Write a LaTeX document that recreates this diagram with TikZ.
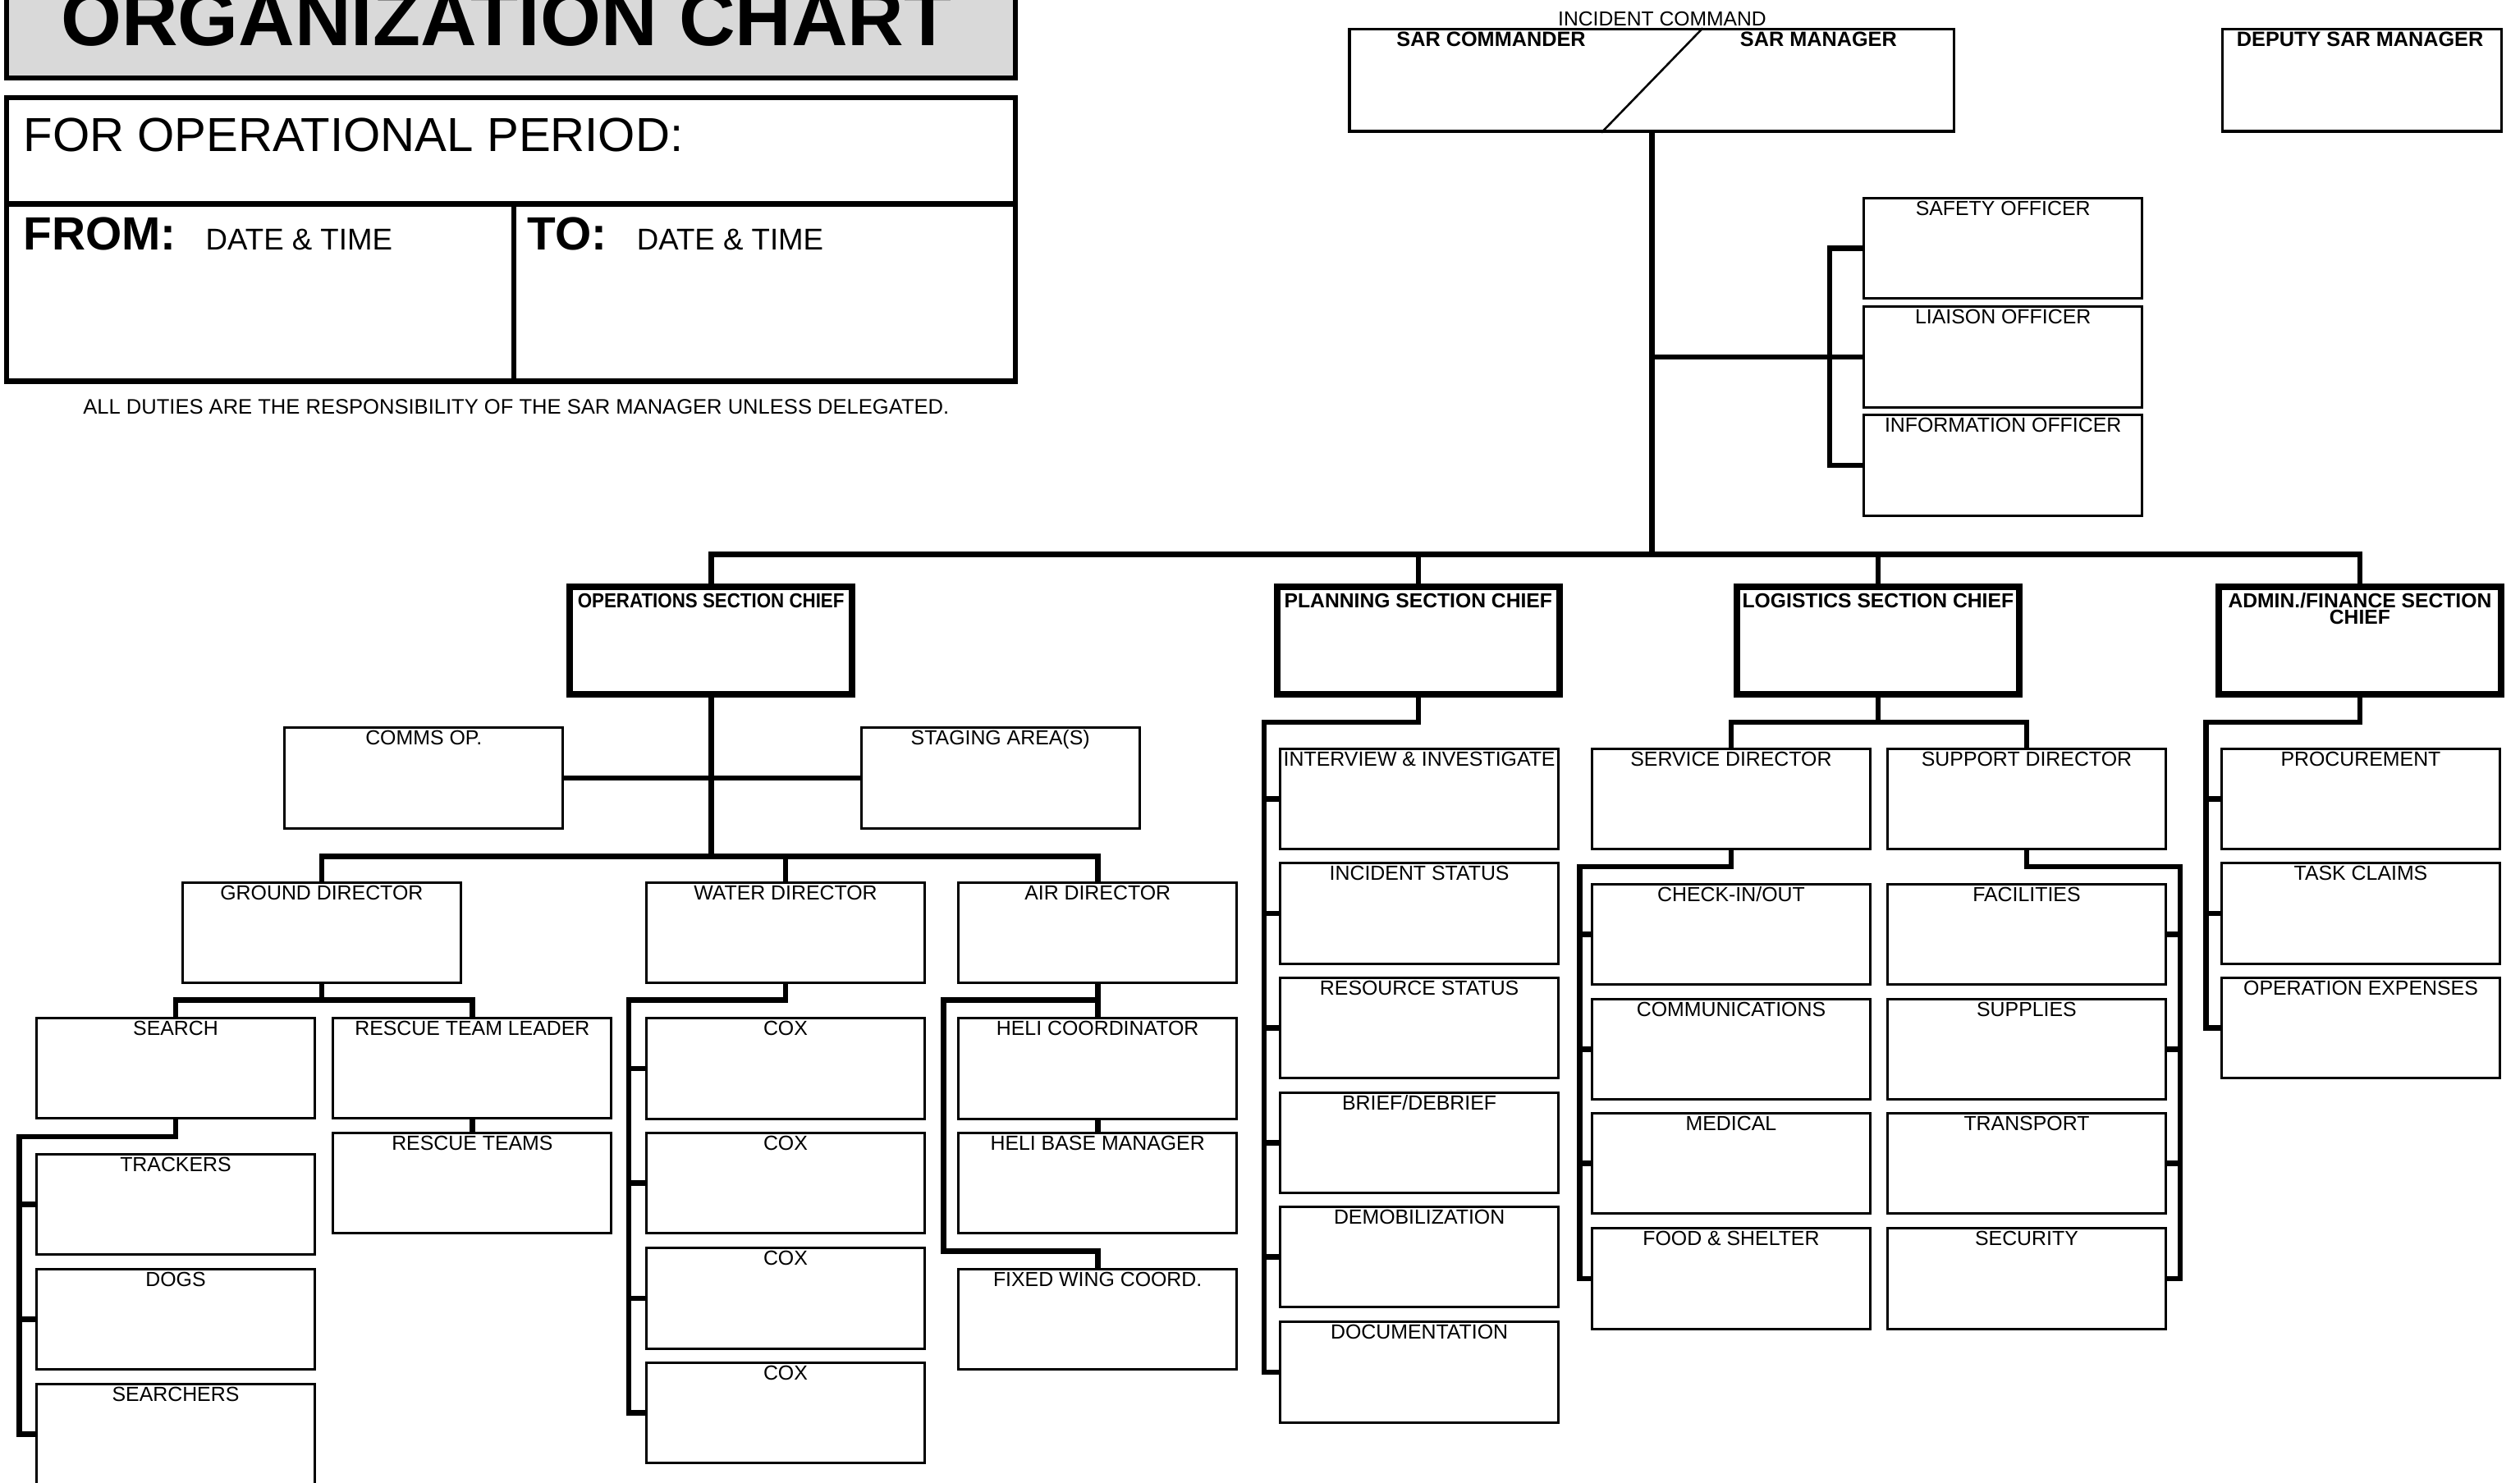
\documentclass[tikz,border=0pt]{standalone}
\usepackage{graphicx}
\usepackage{fontspec}
\setmainfont{Liberation Sans}
\definecolor{titlegray}{RGB}{217,217,217}
\begin{document}
\begin{tikzpicture}[x=1pt,y=-1pt,
  box/.style={draw, line width=1.5pt, fill=white, minimum width=173pt, minimum height=62.5pt, inner sep=0pt, anchor=north west},
  lab/.style={anchor=base, yshift=-11.5pt, inner sep=0pt, font=\fontsize{12.7}{14}\selectfont},
  chief/.style={draw, line width=4.3pt, fill=white, minimum width=175.7pt, minimum height=66.7pt, inner sep=0pt, anchor=north west},
  clab/.style={anchor=base, yshift=-15pt, inner sep=0pt, font=\bfseries\fontsize{12.6}{14}\selectfont},
  headbox/.style={draw, line width=1.6pt, fill=white, minimum height=63.4pt, inner sep=0pt, anchor=north west},
  conn/.style={line width=3.4pt, line join=miter},
  form/.style={line width=3.4pt, line join=miter},
  txt/.style={inner sep=0pt}]
\useasboundingbox (0,0) rectangle (1567.3,922);
\clip (0,0) rectangle (1567.3,922);

% ---------- form part ----------
\draw[form, fill=titlegray] (4,-20) rectangle (631.5,48.5);
\node[txt, anchor=base, font=\bfseries\fontsize{48.5}{50}\selectfont] (title) at (315,28.1) {ORGANIZATION CHART};
\draw[form] (4,60.8) rectangle (631.5,237);
\draw[form] (4,127) -- (631.5,127);
\draw[form] (319.5,127) -- (319.5,237);
\node[txt, anchor=base west, font=\fontsize{29.7}{32}\selectfont] (period) at (14.4,94.4) {FOR OPERATIONAL PERIOD:};
\node[txt, anchor=base west, font=\bfseries\fontsize{29}{32}\selectfont] (from) at (14.4,155.7) {FROM:};
\node[txt, anchor=base west, font=\fontsize{18.7}{20}\selectfont] (fromdt) at (127.8,155.7) {DATE \& TIME};
\node[txt, anchor=base west, font=\bfseries\fontsize{29}{32}\selectfont] (to) at (327.8,155.7) {TO:};
\node[txt, anchor=base west, font=\fontsize{18.7}{20}\selectfont] (todt) at (395.9,155.7) {DATE \& TIME};
\node[txt, anchor=base, font=\fontsize{13.05}{15}\selectfont] (note) at (321,257.8) {ALL DUTIES ARE THE RESPONSIBILITY OF THE SAR MANAGER UNLESS DELEGATED.};

% ---------- incident command ----------
\node[headbox, minimum width=376pt] (ic) at (838.5,17.5) {};
\coordinate (diagtop) at (1059,17.5);
\coordinate (diagbot) at (996,82.5);
\draw[line width=1.3pt] (diagtop) -- (diagbot);
\node[txt, anchor=base, font=\fontsize{12.6}{14}\selectfont] (icl) at (1033.8,16.2) {INCIDENT COMMAND};
\node[txt, anchor=base, font=\bfseries\fontsize{12.9}{14}\selectfont] (sarc) at (927.4,29) {SAR COMMANDER};
\node[txt, anchor=base, font=\bfseries\fontsize{12.9}{14}\selectfont] (sarm) at (1131,29) {SAR MANAGER};
\node[headbox, minimum width=173.5pt] (deputy) at (1381.5,17.5) {};
\node[txt, anchor=base, font=\bfseries\fontsize{12.9}{14}\selectfont] (depl) at (1467.8,29) {DEPUTY SAR MANAGER};

% ---------- officers ----------
\node[box, label={[lab]north:SAFETY OFFICER}] (safety) at (1158.5,122.5) {};
\node[box, label={[lab]north:LIAISON OFFICER}] (liaison) at (1158.5,190) {};
\node[box, label={[lab]north:INFORMATION OFFICER}] (info) at (1158.5,257.5) {};

% ---------- section chiefs ----------
\node[chief, label={[clab]north:{\scalebox{0.905}[1]{OPERATIONS SECTION CHIEF}}}] (ops) at (352.2,363) {};
\node[chief, label={[clab]north:PLANNING SECTION CHIEF}] (plan) at (792.1,363) {};
\node[chief, label={[clab]north:LOGISTICS SECTION CHIEF}] (log) at (1078,363) {};
\node[chief, label={[clab]north:ADMIN./FINANCE SECTION}, label={[clab, yshift=-10pt]north:CHIEF}] (admin) at (1377.7,363) {};

% ---------- operations ----------
\node[box, label={[lab]north:COMMS OP.}] (comms) at (176.3,452) {};
\node[box, label={[lab]north:STAGING AREA(S)}] (staging) at (534.9,452) {};
\node[box, label={[lab]north:GROUND DIRECTOR}] (ground) at (112.8,548.3) {};
\node[box, label={[lab]north:WATER DIRECTOR}] (water) at (401.3,548.3) {};
\node[box, label={[lab]north:AIR DIRECTOR}] (air) at (595.4,548.3) {};
\node[box, label={[lab]north:SEARCH}] (search) at (22,632.5) {};
\node[box, label={[lab]north:RESCUE TEAM LEADER}] (rtl) at (206.5,632.5) {};
\node[box, label={[lab]north:TRACKERS}] (trackers) at (22,717.2) {};
\node[box, label={[lab]north:DOGS}] (dogs) at (22,788.6) {};
\node[box, label={[lab]north:SEARCHERS}] (searchers) at (22,860.1) {};
\node[box, label={[lab]north:RESCUE TEAMS}] (rteams) at (206.5,703.9) {};
\node[box, label={[lab]north:COX}] (cox1) at (401.3,632.6) {};
\node[box, label={[lab]north:COX}] (cox2) at (401.3,703.9) {};
\node[box, label={[lab]north:COX}] (cox3) at (401.3,775.6) {};
\node[box, label={[lab]north:COX}] (cox4) at (401.3,846.8) {};
\node[box, label={[lab]north:HELI COORDINATOR}] (heli) at (595.4,632.6) {};
\node[box, label={[lab]north:HELI BASE MANAGER}] (hbase) at (595.4,703.9) {};
\node[box, label={[lab]north:FIXED WING COORD.}] (fixed) at (595.4,788.6) {};

% ---------- planning ----------
\node[box, label={[lab]north:INTERVIEW \& INVESTIGATE}] (interview) at (795.5,465) {};
\node[box, label={[lab]north:INCIDENT STATUS}] (incstat) at (795.5,536.2) {};
\node[box, label={[lab]north:RESOURCE STATUS}] (resstat) at (795.5,607.5) {};
\node[box, label={[lab]north:BRIEF/DEBRIEF}] (brief) at (795.5,678.8) {};
\node[box, label={[lab]north:DEMOBILIZATION}] (demob) at (795.5,749.8) {};
\node[box, label={[lab]north:DOCUMENTATION}] (docu) at (795.5,821.5) {};

% ---------- logistics ----------
\node[box, label={[lab]north:SERVICE DIRECTOR}] (service) at (989.4,465) {};
\node[box, label={[lab]north:SUPPORT DIRECTOR}] (support) at (1173.2,465) {};
\node[box, label={[lab]north:CHECK-IN/OUT}] (checkin) at (989.4,549.2) {};
\node[box, label={[lab]north:COMMUNICATIONS}] (commu) at (989.4,620.7) {};
\node[box, label={[lab]north:MEDICAL}] (medical) at (989.4,691.7) {};
\node[box, label={[lab]north:FOOD \& SHELTER}] (food) at (989.4,763.4) {};
\node[box, label={[lab]north:FACILITIES}] (facil) at (1173.2,549.2) {};
\node[box, label={[lab]north:SUPPLIES}] (supplies) at (1173.2,620.7) {};
\node[box, label={[lab]north:TRANSPORT}] (transport) at (1173.2,691.7) {};
\node[box, label={[lab]north:SECURITY}] (security) at (1173.2,763.4) {};

% ---------- admin ----------
\node[box, label={[lab]north:PROCUREMENT}] (procure) at (1381,465) {};
\node[box, label={[lab]north:TASK CLAIMS}] (taskc) at (1381,536.2) {};
\node[box, label={[lab]north:OPERATION EXPENSES}] (opexp) at (1381,607.5) {};

% ---------- junction coordinates ----------
\coordinate (mb) at (0,345);
\coordinate (offx) at (1138,0);
\coordinate (dbar) at (0,532.6);
\coordinate (gbar) at (0,622.1);
\coordinate (sbar) at (12,707);
\coordinate (wbar) at (391,622.1);
\coordinate (abar) at (586.7,622.1);
\coordinate (fbar) at (0,778.4);
\coordinate (pbar) at (786.2,449.3);
\coordinate (lbar) at (0,449.3);
\coordinate (svbar) at (982.5,539.1);
\coordinate (spbar) at (1356,539.1);
\coordinate (adbar) at (1372,449.3);

% ---------- connectors: top ----------
\draw[conn] (ic.south) -- (ic.south |- mb);
\draw[conn] (ops.north) -- (ops.north |- mb) -- (admin.north |- mb) -- (admin.north);
\draw[conn] (plan.north) -- (plan.north |- mb);
\draw[conn] (log.north) -- (log.north |- mb);
\draw[conn] (liaison.west) -- (liaison.west -| ic.south);
\draw[conn] (safety.west) -- (safety.west -| offx) -- (info.west -| offx) -- (info.west);

% ---------- connectors: operations ----------
\draw[conn] (ops.south) -- (ops.south |- dbar);
\draw[conn] (comms.east) -- (staging.west);
\draw[conn] (ground.north) -- (ground.north |- dbar) -- (air.north |- dbar) -- (air.north);
\draw[conn] (water.north) -- (water.north |- dbar);
\draw[conn] (ground.south) -- (ground.south |- gbar);
\draw[conn] (search.north) -- (search.north |- gbar) -- (rtl.north |- gbar) -- (rtl.north);
\draw[conn] (search.south) -- (search.south |- sbar) -- (sbar) -- (searchers.west -| sbar) -- (searchers.west);
\draw[conn] (trackers.west -| sbar) -- (trackers.west);
\draw[conn] (dogs.west -| sbar) -- (dogs.west);
\draw[conn] (rtl.south) -- (rteams.north);
\draw[conn] (water.south) -- (water.south |- wbar) -- (wbar) -- (cox4.west -| wbar) -- (cox4.west);
\draw[conn] (cox1.west -| wbar) -- (cox1.west);
\draw[conn] (cox2.west -| wbar) -- (cox2.west);
\draw[conn] (cox3.west -| wbar) -- (cox3.west);
\draw[conn] (air.south) -- (heli.north);
\draw[conn] (air.south |- abar) -- (abar) -- (abar |- fbar) -- (fixed.north |- fbar) -- (fixed.north);
\draw[conn] (heli.south) -- (hbase.north);

% ---------- connectors: planning ----------
\draw[conn] (plan.south) -- (plan.south |- pbar) -- (pbar) -- (docu.west -| pbar) -- (docu.west);
\draw[conn] (interview.west -| pbar) -- (interview.west);
\draw[conn] (incstat.west -| pbar) -- (incstat.west);
\draw[conn] (resstat.west -| pbar) -- (resstat.west);
\draw[conn] (brief.west -| pbar) -- (brief.west);
\draw[conn] (demob.west -| pbar) -- (demob.west);

% ---------- connectors: logistics ----------
\draw[conn] (log.south) -- (log.south |- lbar);
\draw[conn] (service.north) -- (service.north |- lbar) -- (support.north |- lbar) -- (support.north);
\draw[conn] (service.south) -- (service.south |- svbar) -- (svbar) -- (food.west -| svbar) -- (food.west);
\draw[conn] (checkin.west -| svbar) -- (checkin.west);
\draw[conn] (commu.west -| svbar) -- (commu.west);
\draw[conn] (medical.west -| svbar) -- (medical.west);
\draw[conn] (support.south) -- (support.south |- spbar) -- (spbar) -- (security.east -| spbar) -- (security.east);
\draw[conn] (facil.east -| spbar) -- (facil.east);
\draw[conn] (supplies.east -| spbar) -- (supplies.east);
\draw[conn] (transport.east -| spbar) -- (transport.east);

% ---------- connectors: admin ----------
\draw[conn] (admin.south) -- (admin.south |- adbar) -- (adbar) -- (opexp.west -| adbar) -- (opexp.west);
\draw[conn] (procure.west -| adbar) -- (procure.west);
\draw[conn] (taskc.west -| adbar) -- (taskc.west);
\end{tikzpicture}
\end{document}
